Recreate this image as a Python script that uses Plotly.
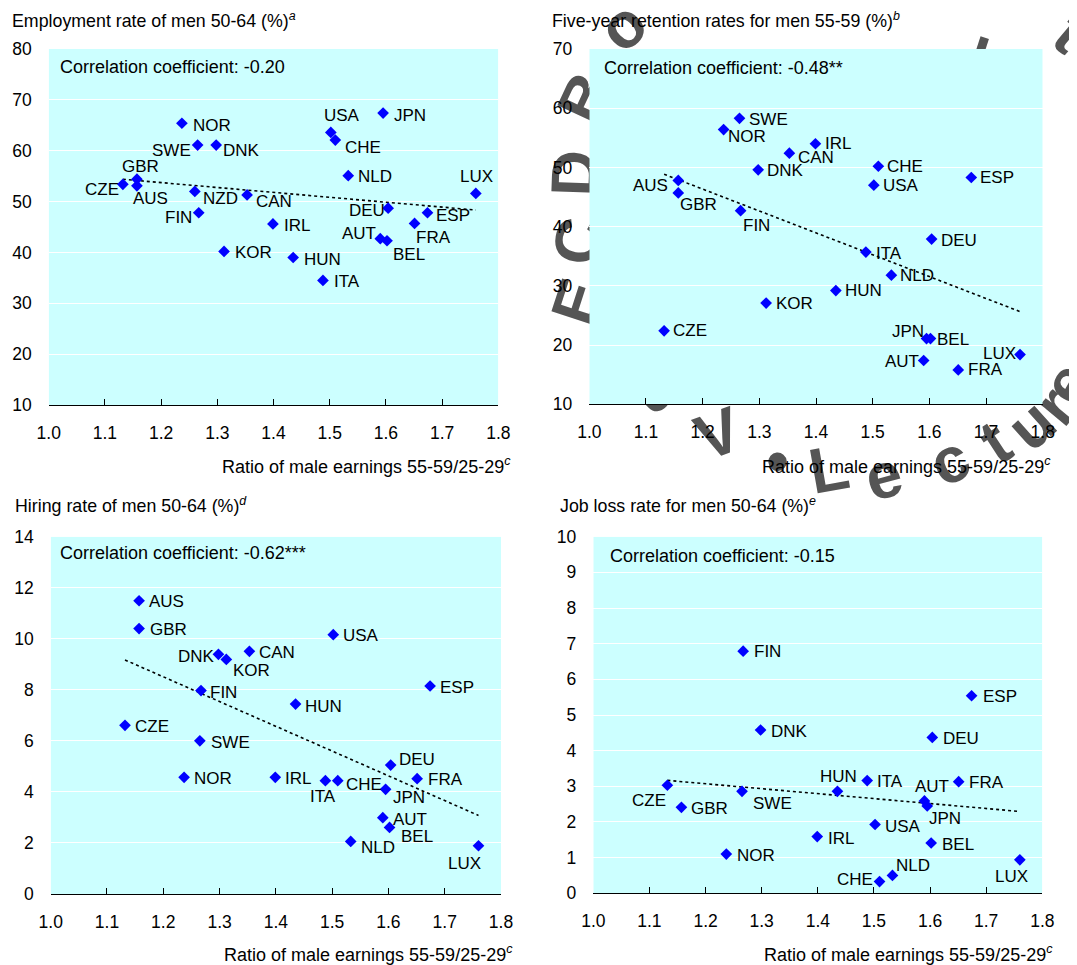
import numpy as np
import plotly.graph_objects as go

# ---------------- data ----------------
countries = ["CZE", "AUS", "GBR", "NOR", "NZD", "SWE", "FIN", "DNK", "KOR", "CAN", "IRL", "HUN",
             "ITA", "USA", "CHE", "NLD", "AUT", "JPN", "BEL", "DEU", "FRA", "ESP", "LUX"]
ratio = [1.132, 1.157, 1.157, 1.237, 1.260, 1.265, 1.267, 1.298, 1.312, 1.353, 1.399, 1.435,
         1.488, 1.502, 1.510, 1.533, 1.590, 1.595, 1.602, 1.604, 1.651, 1.674, 1.760]
employment = [53.4, 53.1, 54.4, 65.4, 52.0, 61.1, 47.8, 61.1, 40.2, 51.3, 45.6, 39.0,
              34.5, 63.6, 62.1, 55.1, 42.7, 67.4, 42.3, 48.7, 45.7, 47.8, 51.6]
retention = [22.4, 47.8, 45.7, 56.4, None, 58.3, 42.7, 49.6, 27.1, 52.4, 54.0, 29.2,
             35.7, 47.0, 50.2, 31.8, 17.4, 21.1, 21.1, 37.9, 15.8, 48.3, 18.4]
hiring = [6.61, 11.49, 10.40, 4.57, None, 6.00, 7.97, 9.39, 9.19, 9.51, 4.57, 7.44,
          4.44, 10.16, 4.44, 2.06, 2.99, 4.10, 2.61, 5.05, 4.52, 8.15, 1.89]
jobloss = [3.03, None, 2.41, 1.10, None, 2.86, 6.79, 4.58, None, None, 1.59, 2.86,
           3.16, 1.93, 0.33, 0.50, 2.59, 2.45, 1.41, 4.37, 3.13, 5.54, 0.94]

titles = ["Employment rate of men 50-64 (%)<sup><i>a</i></sup>",
          "Five-year retention rates for men 55-59 (%)<sup><i>b</i></sup>",
          "Hiring rate of men 50-64 (%)<sup><i>d</i></sup>",
          "Job loss rate for men 50-64 (%)<sup><i>e</i></sup>"]
corr_text = ["Correlation coefficient: -0.20", "Correlation coefficient: -0.48**",
             "Correlation coefficient: -0.62***", "Correlation coefficient: -0.15"]
x_title = "Ratio of male earnings 55-59/25-29<sup><i>c</i></sup>"
y_ranges = [(10, 80), (10, 70), (0, 14), (0, 10)]
y_dticks = [10, 10, 2, 1]
x_ticks = [1.0, 1.1, 1.2, 1.3, 1.4, 1.5, 1.6, 1.7, 1.8]

# ---------------- label offsets (style): text centre relative to marker, in px ----------------
off1 = {"CZE": (-21, 5), "GBR": (4, -13), "AUS": (14, 13), "NOR": (30, 2), "SWE": (-26, 5),
        "DNK": (25, 5), "NZD": (26, 7), "FIN": (-20, 5), "CAN": (27, 7), "KOR": (29, 1),
        "IRL": (24, 2), "HUN": (29, 2), "ITA": (24, 1), "USA": (11, -17), "CHE": (28, 7),
        "JPN": (27, 2), "NLD": (27, 1), "LUX": (1, -17), "DEU": (-21, 2), "ESP": (26, 3),
        "AUT": (-21, -5), "BEL": (22, 14), "FRA": (19, 14)}
off2 = {"SWE": (29, 1), "NOR": (23, 7), "IRL": (23, 0), "CAN": (27, 4), "DNK": (27, 1),
        "CHE": (27, 0), "USA": (27, 0), "ESP": (26, 0), "AUS": (-28, 5), "GBR": (20, 12),
        "FIN": (16, 15), "DEU": (27, 1), "ITA": (23, 1), "NLD": (26, 0), "HUN": (28, 0),
        "KOR": (28, 0), "CZE": (26, 0), "JPN": (-19, -7), "BEL": (23, 1), "AUT": (-22, 1),
        "FRA": (27, 0), "LUX": (-21, -1)}
off3 = {"AUS": (27, 1), "GBR": (29, 1), "USA": (28, 1), "DNK": (-22, 2), "KOR": (25, 11),
        "CAN": (28, 1), "FIN": (23, 2), "ESP": (27, 1), "HUN": (28, 2), "CZE": (27, 1),
        "SWE": (31, 2), "NOR": (29, 1), "IRL": (23, 1), "ITA": (-2, 16), "CHE": (26, 4),
        "DEU": (26, -6), "FRA": (28, 1), "JPN": (23, 8), "AUT": (27, 2), "BEL": (27, 9),
        "NLD": (27, 6), "LUX": (-14, 18)}
off4 = {"FIN": (24, 0), "ESP": (28, 1), "DNK": (29, 2), "DEU": (29, 1), "HUN": (1, -15),
        "ITA": (23, 1), "FRA": (28, 1), "AUT": (8, -14), "JPN": (18, 13), "CZE": (-18, 15),
        "SWE": (30, 12), "GBR": (28, 1), "USA": (28, 2), "IRL": (24, 2), "BEL": (27, 1),
        "NOR": (30, 1), "LUX": (-8, 17), "NLD": (21, -10), "CHE": (-25, -2)}

# The page body has an 8px default margin: size the figure to the visible window
OFF = 8
W, H = 1077 - OFF, 965 - OFF


def fx(px):
    return (px - OFF) / W


def fy(py):
    return 1 - (py - OFF) / H


# plot areas in window pixels: (left, right, top, bottom)
areas = [(48.7, 498.3, 49, 405), (589.3, 1042.7, 49, 404.3),
         (50.7, 501.0, 536.7, 894), (593.3, 1042.3, 536.7, 893.3)]
title_pos = [(10, 20), (550, 20), (13, 505), (558, 505)]
xtitle_pos = [(513, 465), (1053, 465), (515, 953), (1055, 953)]
corr_pos = [(58, 67), (602, 68), (58, 553), (608, 556)]

FONT = "Arial, 'Liberation Sans', sans-serif"
BLUE = "#0000FF"
CYAN = "#CCFFFF"

fig = go.Figure()
series = [employment, retention, hiring, jobloss]
offsets = [off1, off2, off3, off4]

shapes = []
annotations = []

# watermark (paper-referenced, drawn beneath the plot areas)
wm = [("E", 572, 300, -72), ("C", 572, 240, -80), ("D", 568, 173, -88), ("B", 580, 95, -65),
      ("o", 618, 22, -45), ("l", 979, 55, 18), ("t", 1075, 28, 40),
      ("a", 662, 402, 135), ("V", 716, 428, -20), ("•", 777, 455, -5),
      ("L", 828, 463, -10), ("e", 882, 470, -15), ("c", 947, 455, -25), ("t", 992, 437, -33),
      ("u", 1027, 420, -42), ("r", 1050, 402, -50), ("e", 1062, 380, -60)]
for ch, px, py, ang in wm:
    shapes.append(dict(type="rect", xref="paper", yref="paper", layer="below",
                       x0=fx(px - 5), x1=fx(px + 5), y0=fy(py + 5), y1=fy(py - 5),
                       line=dict(width=0), fillcolor="rgba(0,0,0,0)",
                       label=dict(text=ch, textangle=ang, textposition="middle center",
                                  font=dict(family=FONT, size=64, color="#555555", weight="bold"))))

for i in range(4):
    ax = "" if i == 0 else str(i + 1)
    xa, ya = "x" + ax, "y" + ax
    l, r, t, b = areas[i]
    vals = series[i]
    idx = [k for k, v in enumerate(vals) if v is not None]
    xs = [ratio[k] for k in idx]
    ys = [vals[k] for k in idx]
    names = [countries[k] for k in idx]

    # cyan plot background as a shape so the watermark stays underneath
    shapes.append(dict(type="rect", xref=xa, yref=ya, layer="below",
                       x0=x_ticks[0], x1=x_ticks[-1], y0=y_ranges[i][0], y1=y_ranges[i][1],
                       line=dict(width=0), fillcolor=CYAN))

    # trend line (OLS)
    coef = np.polyfit(xs, ys, 1)
    tx = np.array([min(xs), max(xs)])
    fig.add_trace(go.Scatter(x=tx, y=np.polyval(coef, tx), mode="lines", xaxis=xa, yaxis=ya,
                             line=dict(color="black", width=1.6, dash="dot"),
                             hoverinfo="skip", showlegend=False))
    fig.add_trace(go.Scatter(x=xs, y=ys, mode="markers", text=names,
                             xaxis=xa, yaxis=ya, showlegend=False, hoverinfo="text",
                             marker=dict(symbol="diamond", size=9, color=BLUE, line=dict(width=0))))

    # country labels
    for xv, yv, nm in zip(xs, ys, names):
        dx, dy = offsets[i][nm]
        annotations.append(dict(text=nm, x=xv, y=yv, xref=xa, yref=ya, showarrow=False,
                                xanchor="center", yanchor="middle", xshift=dx, yshift=-dy,
                                font=dict(family=FONT, size=17, color="black")))

    xdom = [fx(l), fx(r)]
    ydom = [fy(b), fy(t)]
    fig.layout["xaxis" + ax] = dict(domain=xdom, anchor=ya, range=[x_ticks[0], x_ticks[-1]],
                                    tickvals=x_ticks, ticktext=[f"{v:.1f}" for v in x_ticks],
                                    ticks="inside", ticklen=6, tickcolor="black", tickwidth=1,
                                    showline=True, linecolor="black", linewidth=1.3,
                                    showgrid=False, zeroline=False, ticklabelstandoff=12,
                                    automargin=False,
                                    tickfont=dict(family=FONT, size=17.5, color="black"))
    fig.layout["yaxis" + ax] = dict(domain=ydom, anchor=xa, range=list(y_ranges[i]),
                                    dtick=y_dticks[i], tick0=0, showline=False, ticks="",
                                    showgrid=True, gridcolor="white", gridwidth=1.2,
                                    zeroline=False, ticklabelstandoff=16, automargin=False,
                                    tickfont=dict(family=FONT, size=17.5, color="black"))

    annotations.append(dict(text=titles[i], xref="paper", yref="paper",
                            x=fx(title_pos[i][0]), y=fy(title_pos[i][1]),
                            xanchor="left", yanchor="middle", showarrow=False,
                            font=dict(family=FONT, size=17.8, color="black")))
    annotations.append(dict(text=x_title, xref="paper", yref="paper",
                            x=fx(xtitle_pos[i][0]), y=fy(xtitle_pos[i][1]),
                            xanchor="right", yanchor="middle", showarrow=False,
                            font=dict(family=FONT, size=18, color="black")))
    annotations.append(dict(text=corr_text[i], xref="paper", yref="paper",
                            x=fx(corr_pos[i][0]), y=fy(corr_pos[i][1]),
                            xanchor="left", yanchor="middle", showarrow=False,
                            font=dict(family=FONT, size=18, color="black")))

fig.update_layout(width=W, height=H, margin=dict(l=0, r=0, t=0, b=0, autoexpand=False),
                  paper_bgcolor="white", plot_bgcolor="rgba(0,0,0,0)",
                  shapes=shapes, annotations=annotations,
                  font=dict(family=FONT, color="black"), showlegend=False)

fig.write_html("out.html")
